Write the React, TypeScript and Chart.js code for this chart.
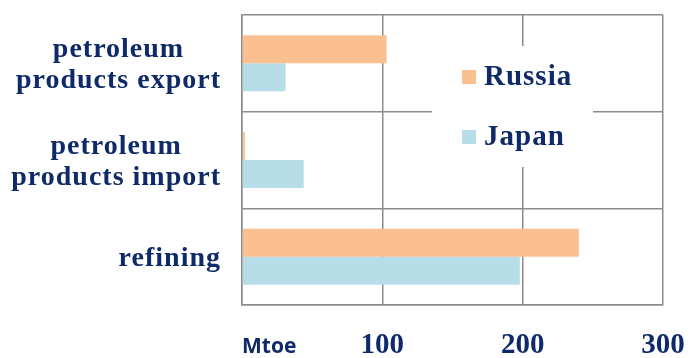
import React, { useEffect, useRef } from "react";
import { Chart, registerables } from "chart.js";

Chart.register(...registerables);

const categories: string[][] = [
  ["petroleum", "products export"],
  ["petroleum", "products import"],
  ["refining"],
];
const seriesNames = ["Russia", "Japan"];
const russia = [103, 2, 240];
const japan = [31, 44, 198];
const xTicks = [0, 100, 200, 300];
const unitLabel = "Mtoe";

const NAVY = "#0f2a68";
const GRID = "#8c8c8c";
const RUSSIA_C = "#fac090";
const JAPAN_C = "#b7dee8";
const SERIF = "'Liberation Serif'";

const overlayPlugin = {
  id: "overlay",
  afterDraw(chart: any) {
    const ctx = chart.ctx;
    const area = chart.chartArea;
    const xs = chart.scales.x;
    const ys = chart.scales.y;
    ctx.save();

    // category labels: block right-aligned, lines centred within block
    ctx.fillStyle = NAVY;
    ctx.font = "700 28px " + SERIF;
    (ctx as any).letterSpacing = "1px";
    ctx.textBaseline = "alphabetic";
    ctx.textAlign = "center";
    const right = area.left - 21;
    const lineH = 31;
    categories.forEach((lines, i) => {
      const cy = ys.getPixelForValue(i);
      const widths = lines.map((l) => ctx.measureText(l).width);
      const maxW = Math.max(...widths);
      const cx = right - maxW / 2;
      const n = lines.length;
      lines.forEach((line, j) => {
        const by = cy + 9.5 + (j - (n - 1) / 2) * lineH;
        ctx.fillText(line, cx, by);
      });
    });

    // unit label at x=0
    (ctx as any).letterSpacing = "0px";
    ctx.font = "700 21px 'Open Sans'";
    ctx.textAlign = "left";
    ctx.fillText(unitLabel, xs.getPixelForValue(0), 353);

    // legend
    const bx = area.left + 190;
    const by = area.top + 31;
    ctx.fillStyle = "#ffffff";
    ctx.fillRect(bx, by, 161, 121);
    const colors = [RUSSIA_C, JAPAN_C];
    const rows = [by + 24, by + 84];
    ctx.font = "700 29px " + SERIF;
    (ctx as any).letterSpacing = "1px";
    for (let i = 0; i < seriesNames.length; i++) {
      ctx.fillStyle = colors[i];
      ctx.fillRect(bx + 30, rows[i], 14, 14);
      ctx.fillStyle = NAVY;
      ctx.fillText(seriesNames[i], bx + 52, rows[i] + 15);
    }
    ctx.restore();
  },
};

export default function App() {
  const ref = useRef<HTMLCanvasElement>(null);
  useEffect(() => {
    const chart = new Chart(ref.current!, {
      type: "bar",
      data: {
        labels: categories.map((c) => c.join(" ")),
        datasets: [
          { label: seriesNames[0], data: russia, backgroundColor: RUSSIA_C },
          { label: seriesNames[1], data: japan, backgroundColor: JAPAN_C },
        ],
      },
      options: {
        indexAxis: "y",
        animation: false,
        responsive: false,
        maintainAspectRatio: false,
        categoryPercentage: 0.58,
        barPercentage: 1,
        layout: { padding: { top: 15, right: 28, left: 0, bottom: 0 } },
        plugins: { legend: { display: false }, tooltip: { enabled: false } },
        scales: {
          x: {
            min: 0,
            max: 300,
            afterBuildTicks: (s: any) => {
              s.ticks = xTicks.map((v) => ({ value: v }));
            },
            afterFit: (s: any) => {
              s.height = 53;
              s.paddingLeft = 0;
              s.paddingRight = 0;
            },
            grid: { color: GRID, lineWidth: 1.5, drawTicks: false },
            border: { color: GRID, width: 1.5 },
            ticks: {
              color: NAVY,
              font: { family: SERIF, size: 29, weight: "bold" },
              padding: 23,
              maxRotation: 0,
              callback: (v: any) => (v === 0 ? "" : String(v)),
            },
          },
          y: {
            afterFit: (s: any) => {
              s.width = 242;
              s.paddingTop = 0;
              s.paddingBottom = 0;
            },
            grid: { color: GRID, lineWidth: 1.5, drawTicks: false },
            border: { color: GRID, width: 1.5 },
            ticks: { display: false },
          },
        },
      },
      plugins: [overlayPlugin],
    } as any);
    return () => chart.destroy();
  }, []);
  return (
    <div style={{ position: "fixed", left: 0, top: 0, width: 691, height: 358, background: "#fff" }}>
      <canvas ref={ref} width={691} height={358} style={{ display: "block" }} />
    </div>
  );
}
